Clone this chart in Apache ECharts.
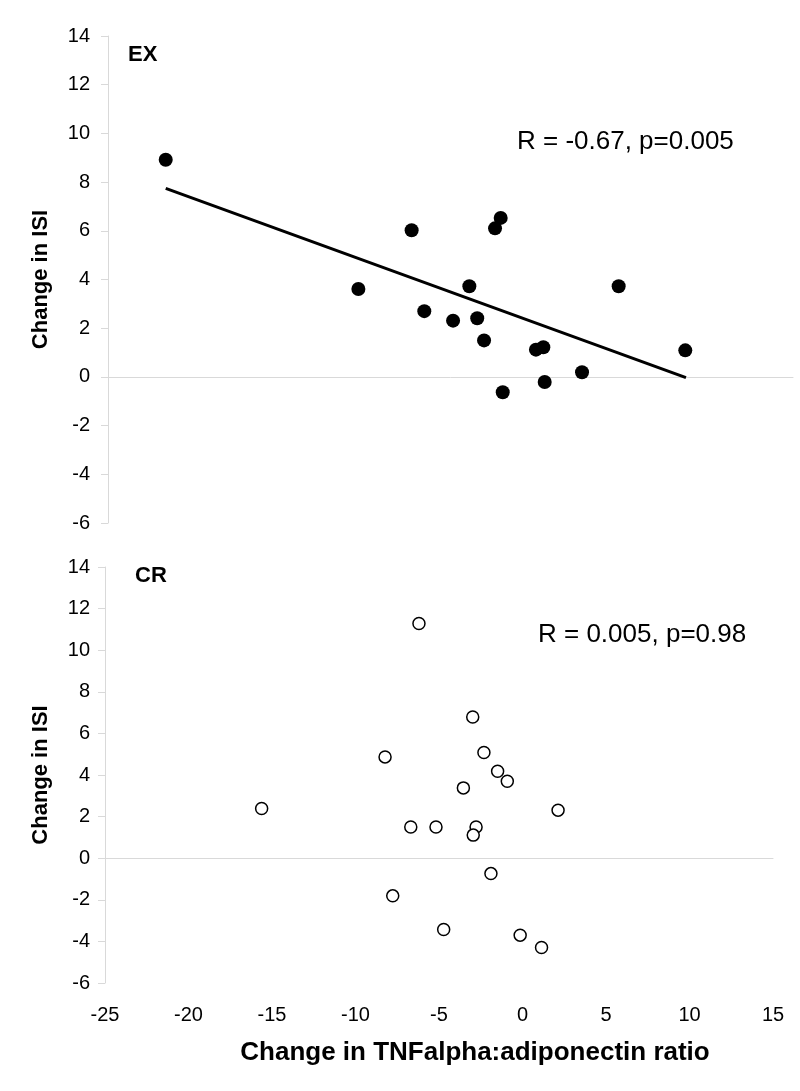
<!DOCTYPE html>
<html>
<head>
<meta charset="utf-8">
<script src="https://cdn.jsdelivr.net/npm/echarts@6/dist/echarts.min.js"></script>
<style>html,body{margin:0;padding:0;background:#fff;}#c{width:800px;height:1091px;}</style>
</head>
<body>
<div id="c"></div>
<script>
// EX group (filled circles)
const exX = [-21.63, -10.38, -7.27, -6.53, -4.85, -3.90, -3.44, -3.04, -2.40, -2.07, -1.95, -0.01, 0.42, 0.50, 2.68, 4.82, 8.71];
const exY = [8.92, 3.61, 6.02, 2.70, 2.31, 3.72, 2.41, 1.50, 6.10, 6.53, -0.63, 1.12, 1.22, -0.21, 0.19, 3.72, 1.09];
// EX regression line endpoints
const trendX = [-21.63, 8.75];
const trendY = [7.74, -0.03];
// CR group (open circles)
const crX = [-6.20, -2.98, -8.23, -2.31, -1.49, -0.91, -3.54, 2.13, -15.62, -6.69, -5.18, -2.78, -2.95, -1.89, -7.77, -4.72, -0.14, 1.14];
const crY = [11.28, 6.79, 4.87, 5.08, 4.18, 3.70, 3.38, 2.31, 2.39, 1.50, 1.50, 1.50, 1.11, -0.74, -1.81, -3.43, -3.70, -4.29];
// axes
const xMin = -25, xMax = 15, xStep = 5;
const yMin = -6, yMax = 14, yStep = 2;
const exLabel = 'EX', crLabel = 'CR';
const exStat = 'R = -0.67, p=0.005';
const crStat = 'R = 0.005, p=0.98';
const yTitle = 'Change in ISI';
const xTitle = 'Change in TNFalpha:adiponectin ratio';

const FONT = '"Liberation Sans", Arial, sans-serif';
const axisGray = '#d9d9d9';
const zip = (a, b) => a.map((v, i) => [v, b[i]]);

function yAx(grid, margin, gap) {
  return {
    type: 'value', gridIndex: grid, min: yMin, max: yMax, interval: yStep,
    axisLine: { show: true, onZero: false, lineStyle: { color: axisGray, width: 1 } },
    axisTick: { show: true, length: 7, lineStyle: { color: axisGray } },
    splitLine: { show: false },
    axisLabel: { fontSize: 20, color: '#000', fontFamily: FONT, margin: margin },
    name: yTitle, nameLocation: 'middle', nameGap: gap,
    nameTextStyle: { fontSize: 22, fontWeight: 'bold', color: '#000', fontFamily: FONT }
  };
}

const chart = echarts.init(document.getElementById('c'), null, { renderer: 'canvas' });
chart.setOption({
  animation: false,
  backgroundColor: '#fff',
  grid: [
    { left: 108, top: 36, width: 685, height: 487 },
    { left: 105, top: 567, width: 668, height: 416 }
  ],
  xAxis: [
    { type: 'value', gridIndex: 0, min: xMin, max: xMax, interval: xStep,
      axisLine: { show: true, onZero: true, lineStyle: { color: axisGray } },
      axisTick: { show: false }, axisLabel: { show: false }, splitLine: { show: false } },
    { type: 'value', gridIndex: 1, min: xMin, max: xMax, interval: xStep, position: 'bottom',
      axisLine: { show: false, onZero: false },
      axisTick: { show: false }, splitLine: { show: false },
      axisLabel: { fontSize: 20, color: '#000', fontFamily: FONT, margin: 22 },
      name: xTitle, nameLocation: 'middle', nameGap: 57,
      nameTextStyle: { fontSize: 26, fontWeight: 'bold', color: '#000', fontFamily: FONT, padding: [0, 0, 0, 72] } },
    { type: 'value', gridIndex: 1, min: xMin, max: xMax, interval: xStep, position: 'top',
      axisLine: { show: true, onZero: true, lineStyle: { color: axisGray } },
      axisTick: { show: false }, axisLabel: { show: false }, splitLine: { show: false } }
  ],
  yAxis: [ yAx(0, 18, 56), yAx(1, 15, 53) ],
  graphic: [
    { type: 'text', left: 128, top: 44, style: { text: exLabel, font: 'bold 22px ' + FONT, fill: '#000' } },
    { type: 'text', left: 135, top: 565, style: { text: crLabel, font: 'bold 22px ' + FONT, fill: '#000' } },
    { type: 'text', left: 517, top: 129, style: { text: exStat, font: '26px ' + FONT, fill: '#000' } },
    { type: 'text', left: 538, top: 622, style: { text: crStat, font: '26px ' + FONT, fill: '#000' } }
  ],
  series: [
    { type: 'line', xAxisIndex: 0, yAxisIndex: 0, data: zip(trendX, trendY), symbol: 'none',
      lineStyle: { color: '#000', width: 3 }, z: 2 },
    { type: 'scatter', xAxisIndex: 0, yAxisIndex: 0, data: zip(exX, exY), symbol: 'circle', symbolSize: 14,
      itemStyle: { color: '#000', opacity: 1 }, z: 3 },
    { type: 'scatter', xAxisIndex: 1, yAxisIndex: 1, data: zip(crX, crY), symbol: 'circle', symbolSize: 12,
      itemStyle: { color: '#fff', borderColor: '#000', borderWidth: 1.5, opacity: 1 }, z: 3 }
  ]
});
</script>
</body>
</html>
